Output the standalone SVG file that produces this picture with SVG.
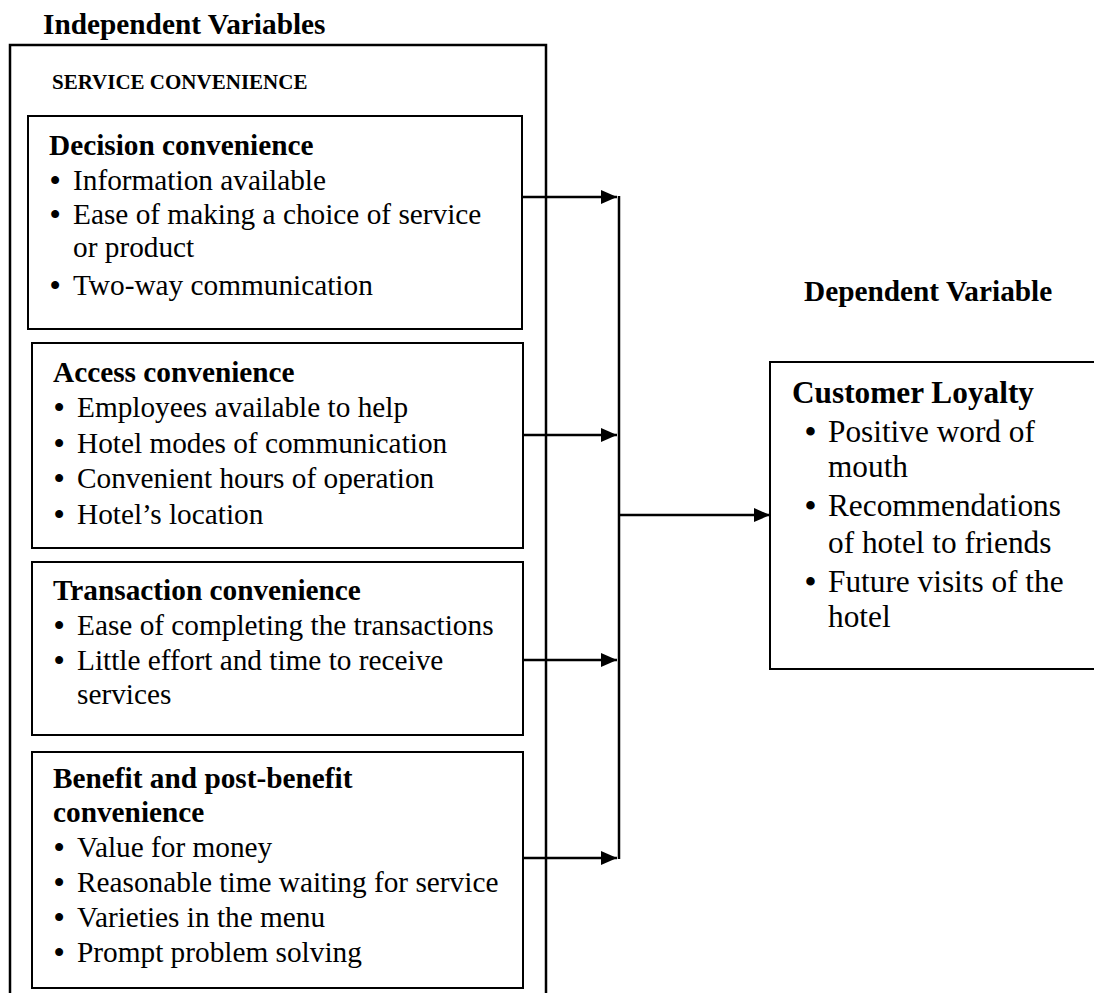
<svg xmlns="http://www.w3.org/2000/svg" width="1094" height="993" viewBox="0 0 1094 993">
<style>
text{font-family:"Liberation Serif","Times New Roman",serif;fill:#000}
.h{font-weight:bold;font-size:29.3px}
.t{font-size:29.3px}
.b{font-weight:bold}
.r{font-size:31.3px}
.rh{font-weight:bold;font-size:31.3px}
.sc{font-weight:bold;font-size:21px}
.box{fill:#fff;stroke:#000;stroke-width:2}
.ln{fill:none;stroke:#000;stroke-width:2.5}
</style>
<defs>
<marker id="ah" viewBox="0 0 16 14" refX="16" refY="7" markerWidth="16" markerHeight="14" markerUnits="userSpaceOnUse" orient="auto">
<path d="M0,0 L16,7 L0,14 z" fill="#000"/>
</marker>
</defs>
<rect width="1094" height="993" fill="#fff"/>
<g id="independent">
<text class="h" x="43" y="34">Independent Variables</text>
<path class="ln" d="M10,1000 V45 H546 V1000"/>
<text class="sc" x="52" y="89">SERVICE CONVENIENCE</text>
</g>
<g id="decision">
<rect class="box" x="28" y="116" width="494" height="213"/>
<text class="h" x="49" y="155">Decision convenience</text>
<text class="t" x="50" y="190"><tspan class="b">•</tspan><tspan x="73">Information available</tspan></text>
<text class="t" x="50" y="224"><tspan class="b">•</tspan><tspan x="73">Ease of making a choice of service</tspan></text>
<text class="t" x="73" y="257">or product</text>
<text class="t" x="50" y="295"><tspan class="b">•</tspan><tspan x="73">Two-way communication</tspan></text>
</g>
<g id="access">
<rect class="box" x="32" y="343" width="491" height="205"/>
<text class="h" x="53" y="382">Access convenience</text>
<text class="t" x="54" y="417"><tspan class="b">•</tspan><tspan x="77">Employees available to help</tspan></text>
<text class="t" x="54" y="453"><tspan class="b">•</tspan><tspan x="77">Hotel modes of communication</tspan></text>
<text class="t" x="54" y="488"><tspan class="b">•</tspan><tspan x="77">Convenient hours of operation</tspan></text>
<text class="t" x="54" y="524"><tspan class="b">•</tspan><tspan x="77">Hotel’s location</tspan></text>
</g>
<g id="transaction">
<rect class="box" x="32" y="562" width="491" height="173"/>
<text class="h" x="53" y="600">Transaction convenience</text>
<text class="t" x="54" y="635"><tspan class="b">•</tspan><tspan x="77">Ease of completing the transactions</tspan></text>
<text class="t" x="54" y="670"><tspan class="b">•</tspan><tspan x="77">Little effort and time to receive</tspan></text>
<text class="t" x="77" y="704">services</text>
</g>
<g id="benefit">
<rect class="box" x="32" y="752" width="491" height="236"/>
<text class="h" x="53" y="788">Benefit and post-benefit</text>
<text class="h" x="53" y="822">convenience</text>
<text class="t" x="54" y="857"><tspan class="b">•</tspan><tspan x="77">Value for money</tspan></text>
<text class="t" x="54" y="892"><tspan class="b">•</tspan><tspan x="77">Reasonable time waiting for service</tspan></text>
<text class="t" x="54" y="927"><tspan class="b">•</tspan><tspan x="77">Varieties in the menu</tspan></text>
<text class="t" x="54" y="962"><tspan class="b">•</tspan><tspan x="77">Prompt problem solving</tspan></text>
</g>
<g id="dependent">
<text class="h" x="804" y="301">Dependent Variable</text>
<rect class="box" x="770" y="362" width="340" height="307"/>
<text class="rh" x="792" y="403">Customer Loyalty</text>
<text class="r" x="805" y="442"><tspan class="b">•</tspan><tspan x="828">Positive word of</tspan></text>
<text class="r" x="828" y="477">mouth</text>
<text class="r" x="805" y="516"><tspan class="b">•</tspan><tspan x="828">Recommendations</tspan></text>
<text class="r" x="828" y="553">of hotel to friends</text>
<text class="r" x="805" y="592"><tspan class="b">•</tspan><tspan x="828">Future visits of the</tspan></text>
<text class="r" x="828" y="627">hotel</text>
</g>
<g id="connectors">
<line class="ln" x1="522" y1="197" x2="617" y2="197" marker-end="url(#ah)"/>
<line class="ln" x1="523" y1="435" x2="617" y2="435" marker-end="url(#ah)"/>
<line class="ln" x1="523" y1="660" x2="617" y2="660" marker-end="url(#ah)"/>
<line class="ln" x1="523" y1="858" x2="617" y2="858" marker-end="url(#ah)"/>
<line class="ln" x1="619" y1="196" x2="619" y2="859"/>
<line class="ln" x1="619" y1="515" x2="770" y2="515" marker-end="url(#ah)"/>
</g>
</svg>
